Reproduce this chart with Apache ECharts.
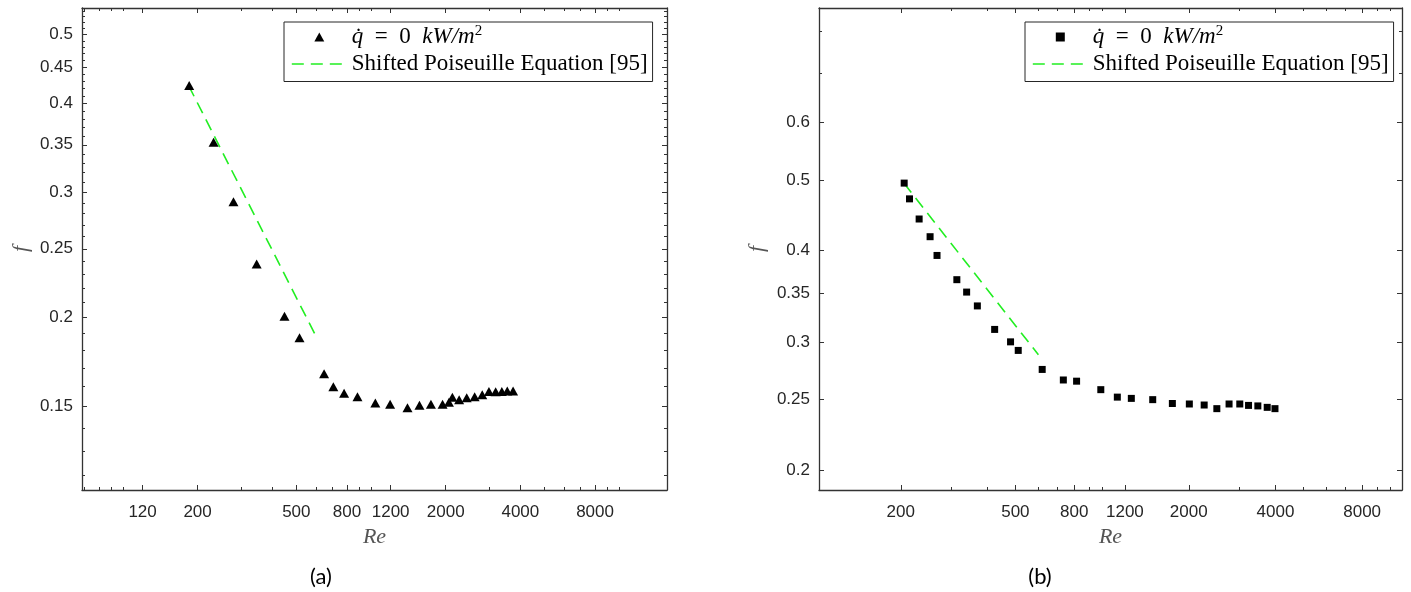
<!DOCTYPE html>
<html><head><meta charset="utf-8">
<script src="https://cdn.jsdelivr.net/npm/echarts@6/dist/echarts.min.js"></script>
<style>html,body{margin:0;padding:0;background:#fff}#c{width:1411px;height:592px}</style>
</head><body><div id="c"></div>
<script>
// ---- Panel (a) data ----
const reA = [185, 232, 279, 346, 448, 515, 647, 705, 779, 882, 1041, 1194, 1403, 1568, 1744, 1943, 2061, 2128, 2266, 2431, 2617, 2808, 2988, 3180, 3368, 3542, 3739];
const fA  = [0.424, 0.353, 0.291, 0.238, 0.201, 0.1875, 0.1668, 0.160, 0.1566, 0.1548, 0.1518, 0.1511, 0.1494, 0.1506, 0.1511, 0.1511, 0.1521, 0.1546, 0.1534, 0.1543, 0.1548, 0.1559, 0.1575, 0.1574, 0.1575, 0.1578, 0.1578];
const poisReA = [184, 597];
const poisFA  = [0.424, 0.189];
// ---- Panel (b) data ----
const reB = [205.5, 214.4, 231.6, 252.8, 267.2, 313.1, 338.6, 368.9, 423.6, 481, 511.5, 619.5, 733.6, 815.6, 989.8, 1129.6, 1263.4, 1499, 1754, 2009, 2262, 2503, 2760, 3007, 3225, 3474, 3744, 3984];
const fB  = [0.495, 0.471, 0.442, 0.418, 0.394, 0.365, 0.351, 0.336, 0.312, 0.300, 0.292, 0.275, 0.266, 0.265, 0.258, 0.252, 0.251, 0.250, 0.247, 0.2466, 0.2458, 0.243, 0.2466, 0.2466, 0.2455, 0.2451, 0.2440, 0.243];
const poisReB = [205, 601];
const poisFB  = [0.495, 0.288];
// ---- ticks ----
const xMajorA = [120, 200, 500, 800, 1200, 2000, 4000, 8000];
const xMinorA = [70, 80, 90, 100, 300, 400, 600, 700, 900, 1000, 3000, 5000, 6000, 7000, 9000, 10000];
const yMajorA = [0.15, 0.2, 0.25, 0.3, 0.35, 0.4, 0.45, 0.5];
const yMinorA = [0.12, 0.13, 0.14, 0.16, 0.17, 0.18, 0.19, 0.21, 0.22, 0.23, 0.24, 0.26, 0.27, 0.28, 0.29, 0.31, 0.32, 0.33, 0.34, 0.36, 0.37, 0.38, 0.39, 0.41, 0.42, 0.43, 0.44, 0.46, 0.47, 0.48, 0.49, 0.51, 0.52, 0.53, 0.54];
const xMajorB = [200, 500, 800, 1200, 2000, 4000, 8000];
const xMinorB = [300, 400, 600, 700, 900, 1000, 3000, 5000, 6000, 7000, 9000, 10000];
const yMajorB = [0.2, 0.25, 0.3, 0.35, 0.4, 0.5, 0.6];
const yMinorB = [0.7, 0.8];
const legendLabels = {qA: 'q', pA: 'Shifted Poiseuille Equation [95]', qB: 'q', pB: 'Shifted Poiseuille Equation [95]'};

const AX = '#333333';
const serif = '"Liberation Serif", "DejaVu Serif", serif';
const sans = '"Liberation Sans", Arial, sans-serif';
const green = '#22ee22';
const DASH = [12, 7];

function axesSet(dim, g, min, max, major, minor, opts) {
  const base = {type: 'log', logBase: 10, gridIndex: g, min: min, max: max,
    splitLine: {show: false}, minorTick: {show: false}, minorSplitLine: {show: false}, silent: true};
  const p1 = dim === 'x' ? 'bottom' : 'left';
  const p2 = dim === 'x' ? 'top' : 'right';
  const main = Object.assign({}, base, {
    position: p1,
    name: opts.name, nameLocation: 'middle', nameGap: opts.nameGap,
    nameTextStyle: {fontFamily: serif, fontStyle: 'italic', fontSize: 22, color: '#555'},
    axisLine: {show: true, onZero: false, lineStyle: {color: AX, width: 1.3}},
    axisTick: {show: true, inside: true, length: 5, customValues: major, lineStyle: {color: AX, width: 1}},
    axisLabel: {show: true, customValues: major, margin: opts.margin, fontSize: 17, color: '#262626', fontFamily: sans,
      formatter: v => String(parseFloat(Number(v).toPrecision(4)))}
  });
  const mirror = Object.assign({}, base, {
    position: p2,
    axisLine: {show: true, onZero: false, lineStyle: {color: AX, width: 1.3}},
    axisTick: {show: true, inside: true, length: 5, customValues: major, lineStyle: {color: AX, width: 1}},
    axisLabel: {show: false}
  });
  const minA = Object.assign({}, base, {
    position: p1,
    axisLine: {show: false, onZero: false},
    axisTick: {show: true, inside: true, length: 3, customValues: minor, lineStyle: {color: AX, width: 1}},
    axisLabel: {show: false}
  });
  const minB = Object.assign({}, minA, {position: p2});
  return [main, mirror, minA, minB];
}

const xAxis = [].concat(
  axesSet('x', 0, 68.4, 15600, xMajorA, xMinorA, {name: 'Re', nameGap: 36, margin: 14}),
  axesSet('x', 1, 104, 11000, xMajorB, xMinorB, {name: 'Re', nameGap: 36, margin: 14})
);
const yAxis = [].concat(
  axesSet('y', 0, 0.1145, 0.545, yMajorA, yMinorA, {name: 'f', nameGap: 50, margin: 9}),
  axesSet('y', 1, 0.188, 0.86, yMajorB, yMinorB, {name: 'f', nameGap: 51, margin: 9})
);

function pairs(xs, ys) { return xs.map((x, i) => [x, ys[i]]); }

const LF = 23;
const richLegend = {
  i: {fontFamily: serif, fontStyle: 'italic', fontSize: LF, color: '#000'},
  n: {fontFamily: serif, fontSize: LF, color: '#000'},
  s: {fontFamily: serif, fontSize: 15, color: '#000', padding: [0, 0, 11, 0]}
};
function legendFmt(name) {
  if (name === 'qA' || name === 'qB') return '{i|q\u0307}{n|  =  0  }{i|kW/m}{s|2}';
  return '{n|' + legendLabels[name] + '}';
}
const triIcon = 'path://M0,10 L5.5,0 L11,10 Z';
const sqIcon = 'path://M0,0 L10,0 L10,10 L0,10 Z';
function legendCfg(left, names, icon) {
  return {
    left: left, top: 22, orient: 'vertical', selectedMode: false,
    data: [
      {name: names[0], icon: icon, itemStyle: {color: '#000', opacity: 1}},
      {name: names[1], itemStyle: {color: 'rgba(0,0,0,0)', borderColor: 'rgba(0,0,0,0)', opacity: 0}}
    ],
    symbolKeepAspect: true,
    itemWidth: 55, itemHeight: 9, itemGap: 2, padding: [2, 5, 5, 7],
    borderColor: '#262626', borderWidth: 1, backgroundColor: '#fff',
    lineStyle: {type: DASH, width: 1.6, color: green, opacity: 1},
    textStyle: {fontFamily: serif, fontSize: LF, color: '#000', lineHeight: 25, rich: richLegend},
    formatter: legendFmt
  };
}

const option = {
  animation: false,
  backgroundColor: '#fff',
  grid: [
    {left: 82, top: 8, width: 585, height: 482, outerBoundsMode: 'none', containLabel: false},
    {left: 819, top: 8, width: 583, height: 482, outerBoundsMode: 'none', containLabel: false}
  ],
  xAxis: xAxis,
  yAxis: yAxis,
  legend: [legendCfg(284, ['qA', 'pA'], triIcon), legendCfg(1025, ['qB', 'pB'], sqIcon)],
  series: [
    {type: 'line', name: 'pA', xAxisIndex: 0, yAxisIndex: 0, symbol: 'none', silent: true, z: 2,
      lineStyle: {color: green, width: 1.6, type: DASH}, itemStyle: {color: green}, data: pairs(poisReA, poisFA)},
    {type: 'scatter', name: 'qA', xAxisIndex: 0, yAxisIndex: 0, symbol: 'triangle', symbolSize: [10, 9], silent: true, z: 3,
      itemStyle: {color: '#000', opacity: 1}, data: pairs(reA, fA)},
    {type: 'line', name: 'pB', xAxisIndex: 4, yAxisIndex: 4, symbol: 'none', silent: true, z: 2,
      lineStyle: {color: green, width: 1.6, type: DASH}, itemStyle: {color: green}, data: pairs(poisReB, poisFB)},
    {type: 'scatter', name: 'qB', xAxisIndex: 4, yAxisIndex: 4, symbol: 'rect', symbolSize: 7, silent: true, z: 3,
      itemStyle: {color: '#000', opacity: 1}, data: pairs(reB, fB)}
  ],
  graphic: [
    {type: 'text', x: 321, y: 577, style: {text: '(a)', font: '22px Lato, "Open Sans", sans-serif', fill: '#000', textAlign: 'center', textVerticalAlign: 'middle'}},
    {type: 'text', x: 1040, y: 577, style: {text: '(b)', font: '22px Lato, "Open Sans", sans-serif', fill: '#000', textAlign: 'center', textVerticalAlign: 'middle'}}
  ]
};
const chart = echarts.init(document.getElementById('c'), null, {renderer: 'canvas'});
chart.setOption(option);
</script></body></html>
